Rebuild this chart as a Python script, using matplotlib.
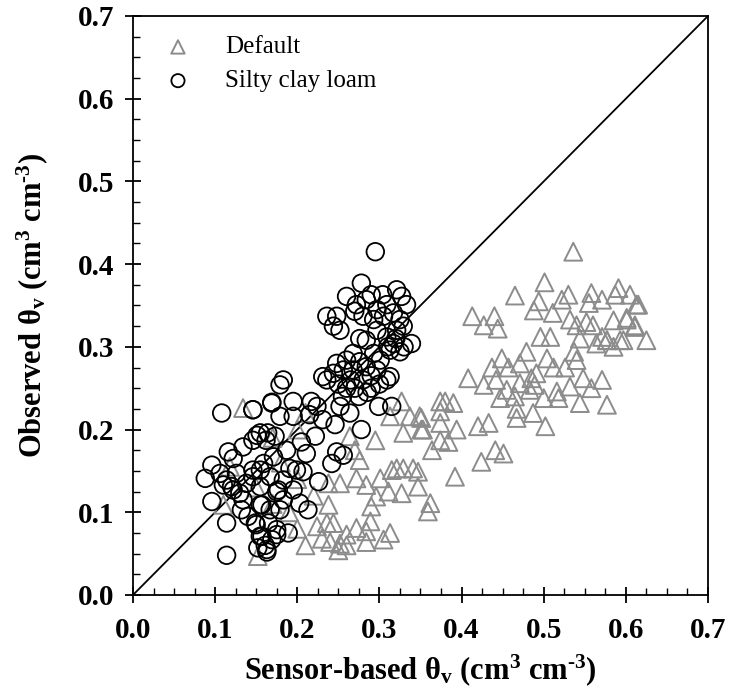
import matplotlib.pyplot as plt
from matplotlib.ticker import MultipleLocator

plt.rcParams['font.family'] = 'Liberation Serif'
plt.rcParams['mathtext.fontset'] = 'custom'
plt.rcParams['mathtext.rm'] = 'Liberation Serif:bold'
plt.rcParams['mathtext.it'] = 'Liberation Serif:bold'
plt.rcParams['mathtext.bf'] = 'Liberation Serif:bold'

# Silty clay loam calibration (circles)
scl_x = [0.295, 0.278, 0.260, 0.272, 0.284, 0.290, 0.304, 0.321, 0.327, 0.333,
         0.309, 0.297, 0.270, 0.280, 0.293, 0.305, 0.317, 0.325, 0.329, 0.321,
         0.339, 0.309, 0.317, 0.313, 0.325, 0.297, 0.236, 0.248, 0.244, 0.252,
         0.276, 0.284, 0.268, 0.293, 0.248, 0.260, 0.276, 0.301, 0.244, 0.256,
         0.268, 0.284, 0.297, 0.231, 0.313, 0.183, 0.260, 0.270, 0.280, 0.290,
         0.265, 0.275, 0.285, 0.250, 0.255, 0.290, 0.300, 0.236, 0.309, 0.315,
         0.299, 0.278, 0.264, 0.252, 0.310, 0.320, 0.330,
         0.169, 0.195, 0.217, 0.224, 0.179, 0.195, 0.215, 0.231, 0.246, 0.146,
         0.155, 0.173, 0.222, 0.205, 0.187, 0.211, 0.248, 0.256, 0.242, 0.226,
         0.199, 0.207, 0.191, 0.159, 0.146, 0.167, 0.183, 0.195, 0.177, 0.155,
         0.203, 0.213, 0.183, 0.157, 0.179, 0.149, 0.165, 0.189, 0.175, 0.157,
         0.152, 0.163,
         0.108, 0.146, 0.169, 0.179, 0.096, 0.088, 0.096, 0.114, 0.114, 0.116,
         0.134, 0.151, 0.164, 0.106, 0.120, 0.130, 0.146, 0.162, 0.171, 0.155,
         0.146, 0.138, 0.126, 0.114, 0.110, 0.122, 0.134, 0.132, 0.140, 0.155,
         0.167, 0.150, 0.155, 0.161, 0.163, 0.169, 0.175, 0.175, 0.122]
scl_y = [0.415, 0.377, 0.361, 0.351, 0.357, 0.363, 0.363, 0.369, 0.361, 0.351,
         0.351, 0.345, 0.343, 0.337, 0.333, 0.337, 0.341, 0.333, 0.325, 0.320,
         0.304, 0.312, 0.304, 0.296, 0.294, 0.320, 0.337, 0.337, 0.325, 0.320,
         0.310, 0.308, 0.292, 0.292, 0.280, 0.284, 0.282, 0.284, 0.268, 0.272,
         0.272, 0.276, 0.272, 0.264, 0.264, 0.260, 0.250, 0.250, 0.260, 0.250,
         0.260, 0.240, 0.245, 0.255, 0.240, 0.265, 0.255, 0.260, 0.260, 0.228,
         0.228, 0.200, 0.220, 0.228, 0.300, 0.310, 0.300,
         0.232, 0.234, 0.234, 0.228, 0.216, 0.216, 0.218, 0.212, 0.206, 0.224,
         0.196, 0.192, 0.192, 0.185, 0.175, 0.171, 0.173, 0.169, 0.159, 0.137,
         0.151, 0.149, 0.153, 0.159, 0.151, 0.143, 0.139, 0.127, 0.127, 0.131,
         0.111, 0.103, 0.115, 0.109, 0.103, 0.087, 0.087, 0.075, 0.073, 0.071,
         0.057, 0.055,
         0.220, 0.224, 0.233, 0.254, 0.157, 0.141, 0.113, 0.048, 0.087, 0.173,
         0.179, 0.193, 0.196, 0.147, 0.131, 0.123, 0.187, 0.187, 0.167, 0.151,
         0.143, 0.135, 0.147, 0.139, 0.133, 0.127, 0.115, 0.103, 0.095, 0.109,
         0.103, 0.085, 0.071, 0.060, 0.052, 0.067, 0.079, 0.125, 0.165]

# Default calibration (triangles)
def_x = [0.536, 0.501, 0.465, 0.494, 0.488, 0.511, 0.522, 0.530, 0.558, 0.555,
         0.571, 0.591, 0.587, 0.605, 0.613, 0.601, 0.532, 0.540, 0.552, 0.560,
         0.571, 0.577, 0.564, 0.585, 0.593, 0.544, 0.611, 0.413, 0.427, 0.440,
         0.444, 0.496, 0.508, 0.479, 0.537, 0.540, 0.504, 0.449, 0.437, 0.457,
         0.471, 0.491, 0.485, 0.512, 0.526, 0.548, 0.571, 0.558, 0.408, 0.427,
         0.442, 0.455, 0.471, 0.483, 0.489, 0.447, 0.465, 0.516, 0.532, 0.518,
         0.500, 0.544, 0.577, 0.487, 0.467, 0.502, 0.467, 0.374, 0.380, 0.390,
         0.374, 0.351, 0.394, 0.374, 0.420, 0.433, 0.353, 0.374, 0.384, 0.364,
         0.441, 0.451, 0.424, 0.392, 0.615, 0.601, 0.611, 0.625, 0.585, 0.577,
         0.597,
         0.327, 0.337, 0.349, 0.313, 0.329, 0.351, 0.295, 0.264, 0.270, 0.276,
         0.321, 0.329, 0.341, 0.347, 0.315, 0.272, 0.301, 0.252, 0.238, 0.284,
         0.311, 0.327, 0.347, 0.296, 0.238, 0.290, 0.362, 0.359, 0.236, 0.244,
         0.224, 0.272, 0.289, 0.260, 0.284, 0.313, 0.230, 0.240, 0.252, 0.284,
         0.305, 0.250, 0.260, 0.134, 0.118, 0.152, 0.110,
         0.200, 0.210, 0.190, 0.220, 0.200, 0.180, 0.170, 0.200, 0.210, 0.150,
         0.170]
def_y = [0.415, 0.378, 0.362, 0.355, 0.344, 0.341, 0.357, 0.363, 0.365, 0.353,
         0.357, 0.371, 0.363, 0.363, 0.351, 0.333, 0.333, 0.326, 0.330, 0.326,
         0.312, 0.308, 0.304, 0.300, 0.308, 0.310, 0.324, 0.337, 0.326, 0.337,
         0.322, 0.312, 0.312, 0.294, 0.294, 0.284, 0.286, 0.286, 0.275, 0.275,
         0.280, 0.268, 0.262, 0.275, 0.275, 0.262, 0.260, 0.250, 0.262, 0.254,
         0.260, 0.248, 0.256, 0.248, 0.254, 0.238, 0.240, 0.246, 0.252, 0.238,
         0.238, 0.232, 0.230, 0.220, 0.214, 0.204, 0.225, 0.234, 0.234, 0.232,
         0.222, 0.214, 0.200, 0.208, 0.204, 0.208, 0.200, 0.187, 0.185, 0.175,
         0.175, 0.171, 0.161, 0.143, 0.351, 0.335, 0.326, 0.308, 0.332, 0.308,
         0.308,
         0.234, 0.216, 0.216, 0.216, 0.196, 0.200, 0.187, 0.192, 0.175, 0.163,
         0.153, 0.153, 0.153, 0.149, 0.151, 0.141, 0.141, 0.135, 0.135, 0.133,
         0.125, 0.123, 0.131, 0.119, 0.109, 0.107, 0.111, 0.101, 0.087, 0.087,
         0.083, 0.081, 0.089, 0.073, 0.077, 0.075, 0.068, 0.064, 0.062, 0.064,
         0.067, 0.054, 0.060, 0.226, 0.155, 0.047, 0.109,
         0.080, 0.060, 0.100, 0.120, 0.140, 0.160, 0.190, 0.200, 0.220, 0.130,
         0.110]

fig = plt.figure(figsize=(7.29, 6.95), dpi=100)
ax = fig.add_axes([0.1824, 0.1439, 0.7888, 0.8331])

ax.plot([0, 0.7], [0, 0.7], color='black', lw=1.3, zorder=1)
ax.scatter(def_x, def_y, s=165, marker='^', facecolors='none',
           edgecolors='#8c8c8c', linewidths=1.4, label='Default', zorder=2)
ax.scatter(scl_x, scl_y, s=160, marker='o', facecolors='none',
           edgecolors='black', linewidths=1.3, label='Silty clay loam', zorder=3)

ax.set_xlim(0, 0.7)
ax.set_ylim(0, 0.7)
ax.xaxis.set_major_locator(MultipleLocator(0.1))
ax.yaxis.set_major_locator(MultipleLocator(0.1))
ax.xaxis.set_minor_locator(MultipleLocator(0.025))
ax.yaxis.set_minor_locator(MultipleLocator(0.025))
ax.tick_params(which='major', direction='inout', length=11, width=1.3,
               labelsize=21)
ax.tick_params(axis='x', which='major', pad=10)
ax.tick_params(axis='y', which='major', pad=8)
ax.tick_params(which='minor', direction='in', length=5, width=1.0)
for lab in ax.get_xticklabels() + ax.get_yticklabels():
    lab.set_fontweight('bold')
for sp in ax.spines.values():
    sp.set_linewidth(1.3)

# hyphen (U+2010) in the exponent, as in the original figure
ax.set_xlabel('Sensor-based θ$_\\mathrm{v}$ (cm$^\\mathrm{3}$ cm$^\\mathrm{\u20103}$)',
              fontsize=22, fontweight='bold', labelpad=6)
ax.set_ylabel('Observed θ$_\\mathrm{v}$ (cm$^\\mathrm{3}$ cm$^\\mathrm{\u20103}$)',
              fontsize=22, fontweight='bold', labelpad=20)

ax.legend(loc='upper left', frameon=False, fontsize=18, markerscale=0.75,
          handletextpad=0.9, borderaxespad=0.4, labelspacing=0.45,
          bbox_to_anchor=(0.0, 1.0))

fig.savefig('out.png', dpi=100)
